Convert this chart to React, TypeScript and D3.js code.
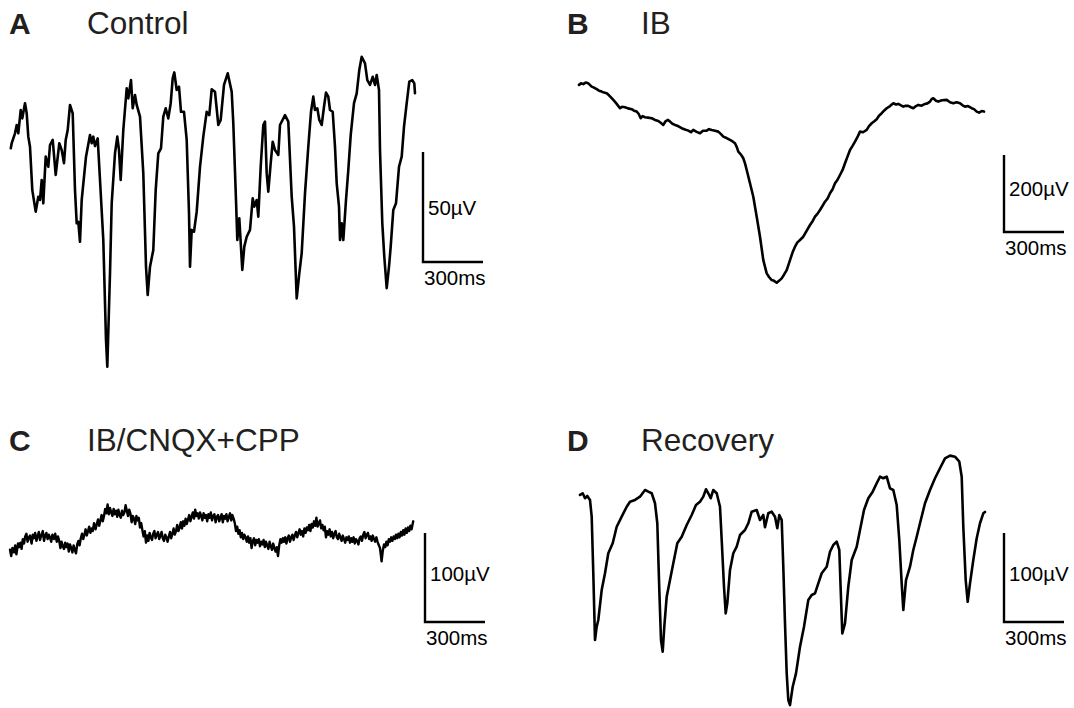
import React, { useEffect, useRef } from "react";
import * as d3 from "d3";

// ---------- DATA (time in ms, potential in µV) ----------
const controlTrace: [number, number][] = [
  [4,23.5],[8.5,25.8],[25,30.3],[33.5,34.1],[41.5,30.3],[53.5,40.9],[61.5,37.1],[75,44],[83.5,39.4],[91.5,28.8],[100,24.2],[111.5,4.5],[128.5,-5.3],[141.5,1.5],[150,0],[158.5,9.1],[166.5,-1.5],[178.5,19.7],[191.5,15.1],[200,25],[213.5,27.3],[228.5,11.4],[246.5,25.8],[258.5,22.7],[270,16.7],[278.5,27.3],[288.5,31.8],[300,43.2],[313.5,39.4],[325,4.5],[333.5,-10.6],[341.5,-9.9],[350,-19],[358.5,0],[380,19.7],[400,29.5],[408.5,25.8],[416.5,28.8],[425,24.5],[438.5,28],[450,9.1],[466.5,-18.2],[480,-63.6],[486.5,-75.8],[500,-33.3],[508.5,-1.5],[525,21.2],[536.5,28.8],[545,22.7],[553.5,9.1],[566.5,31.8],[583.5,50.8],[591.5,46.2],[605,54.5],[613.5,41.7],[625,47.7],[633.5,43.2],[650,37.9],[666.5,12.1],[680,-30.3],[688.5,-43.2],[700,-30.3],[716.5,-22.7],[728.5,4.5],[741.5,21.2],[755,23.5],[766.5,37.9],[778.5,41.7],[791.5,37.1],[803.5,44],[813.5,55.3],[821.5,58],[833.5,50],[845,51.5],[855,40.1],[870,40.1],[883.5,27.3],[895,-6],[900,-30.3],[908.5,-13.6],[920,-14.4],[933.5,-5.3],[950,15.1],[966.5,28.8],[983.5,40.1],[996.5,38.6],[1008.5,50.3],[1025,49.2],[1041.5,34.1],[1053.5,36.4],[1070,52.3],[1088.5,57.6],[1108.5,49.2],[1116.5,34.9],[1130,0],[1136.5,-18.2],[1146.5,-8.3],[1161.5,-31.8],[1171.5,-21.2],[1183.5,-16.7],[1200,-13.6],[1213.5,0.8],[1221.5,-3],[1233.5,0],[1241.5,-7.6],[1253.5,15.1],[1266.5,34.1],[1275,35.6],[1283.5,12.1],[1291.5,3.8],[1303.5,16.7],[1313.5,26.5],[1325,22.7],[1341.5,20.5],[1350,34.1],[1375,38.6],[1391.5,35.6],[1408.5,1.5],[1420,-12.1],[1433.5,-44.7],[1446.5,-33.3],[1458.5,-24.2],[1475,3],[1491.5,24.2],[1505,40.1],[1516.5,47],[1525,40.9],[1536.5,41.7],[1546.5,36.4],[1558.5,34.1],[1570,42.4],[1580,48.8],[1591.5,47],[1600,40.9],[1613.5,40.1],[1625,24.2],[1633.5,7.6],[1645,-3],[1650,-18.2],[1658.5,-10.6],[1666.5,-18.2],[1680,0],[1691.5,13.6],[1703.5,29.5],[1720,44],[1733.5,48.5],[1746.5,59.1],[1758.5,65.1],[1775,62.1],[1786.5,54.5],[1800,52.3],[1813.5,56],[1825,52.3],[1833.5,56.8],[1845,50],[1850,22.7],[1861.5,-10.6],[1871.5,-25.8],[1883.5,-40.1],[1895,-30.3],[1903.5,-21.2],[1916.5,-4.5],[1930,-1.5],[1945,15.1],[1958.5,19.7],[1970,33.3],[1983.5,44],[1996.5,53.8],[2011.5,54.5],[2021.5,53],[2025,48.5]
];

const ibTrace: [number, number][] = [
  [0,299],[10,303],[21.5,301],[33,305],[46.5,303],[63.5,294.6],[75,292],[88.5,287.8],[100,284],[113.5,281.6],[125,279],[138.5,277.4],[150,272],[163.5,264.4],[175,258],[188.5,249.6],[205,238.4],[215,242],[230,241],[245,238],[263.5,235.8],[275,232],[288.5,229.6],[298,224],[308.5,212.4],[318,218],[330,215],[345,214],[363.5,212.4],[380,208],[396.5,205.4],[410,200],[421.5,195],[432,204],[445,208],[455,203.6],[467,198],[480,195],[495,192],[513.5,186.4],[530,183],[546.5,180.2],[560,176],[571.5,182],[588,177],[605,173.4],[620,180],[638.5,180.2],[650,184],[663.5,182],[680,180],[696.5,177.6],[710,171],[721.5,164.6],[738,161],[755,156],[768,152],[780,147.4],[790,136],[796.5,125.6],[810,118],[821.5,108.4],[830,95],[838.5,78],[855,43.4],[871.5,8.6],[888.5,-43.4],[905,-95.4],[921.5,-156],[938.5,-190.6],[950,-200],[963.5,-208],[975,-210],[988.5,-215],[1000,-210],[1013.5,-203.6],[1025,-194],[1038.5,-182],[1055,-156],[1068,-136],[1080,-121.4],[1092,-110],[1105,-104],[1121.5,-95.4],[1138,-80],[1155,-65],[1168,-55],[1180,-43.4],[1192,-36],[1205,-26],[1218,-15],[1230,-4.4],[1243,4],[1255,17.4],[1268,28],[1280,43.4],[1292,52],[1305,65],[1318,78],[1330,95.4],[1342,112],[1355,130],[1367,140],[1380,151.6],[1392,163],[1405,177.6],[1420,176],[1438.5,182],[1450,192],[1463.5,199.4],[1475,204],[1488.5,209.8],[1500,219],[1513.5,225.4],[1525,232],[1538.5,238.4],[1555,244],[1571.5,251.4],[1585,248],[1596.5,249.6],[1610,246],[1621.5,242.6],[1635,245],[1646.5,244.4],[1660,241],[1671.5,238.4],[1685,244],[1696.5,247],[1713,245],[1730,249.6],[1742,251],[1755,255.6],[1763,262],[1771.5,264.4],[1785,258],[1796.5,255.6],[1815,259],[1838.5,260],[1855,254],[1871.5,251.4],[1888,254],[1905,251.4],[1918,246],[1930,242.6],[1945,244],[1963.5,238.4],[1975,236],[1988.5,229.6],[2000,227],[2013.5,231],[2025,229.6]
];

const blockTrace: [number, number][] = [
  [0,-11],[6,-18],[12,-9],[20,-14],[26,-6],[32,-16],[40,-4],[46,-8],[52,-3],[58,-10],[64,1],[70,-4],[76,4],[82,7],[88,-2],[94,3],[100,5],[108,-4],[114,6],[120,2],[126,8],[132,-1],[138,4],[144,9],[150,0],[158,6],[164,10],[170,-1],[176,5],[182,8],[188,1],[194,6],[200,3],[206,-2],[212,6],[220,1],[226,7],[234,-2],[240,4],[246,-1],[252,-9],[258,-2],[264,-7],[270,-10],[276,-3],[282,-8],[288,-4],[294,-13],[300,-5],[306,-9],[312,-14],[318,-6],[324,-11],[330,-15],[336,-5],[342,-1],[348,-6],[354,2],[360,7],[366,1],[372,6],[378,12],[384,5],[390,10],[396,15],[402,8],[408,13],[414,10],[420,19],[428,12],[434,18],[440,23],[446,16],[452,22],[458,28],[464,21],[470,27],[476,35],[482,30],[488,40],[494,29],[500,36],[506,31],[512,27],[518,35],[524,29],[530,33],[536,26],[542,34],[548,28],[554,25],[560,33],[566,28],[572,31],[578,39],[584,33],[590,27],[596,34],[602,30],[608,20],[614,27],[620,24],[626,18],[632,27],[638,22],[644,25],[650,14],[656,19],[662,11],[668,4],[674,10],[680,-3],[686,5],[692,-1],[698,8],[704,3],[710,0],[716,7],[722,10],[728,2],[734,6],[740,9],[746,1],[752,5],[758,9],[764,2],[770,-1],[776,6],[782,3],[788,-2],[794,4],[800,9],[806,2],[812,7],[818,13],[824,6],[830,10],[836,17],[842,10],[848,14],[854,20],[860,13],[866,21],[872,16],[878,24],[884,18],[890,23],[896,28],[902,21],[908,26],[914,31],[920,24],[926,34],[932,27],[938,30],[944,24],[950,31],[956,27],[962,22],[968,30],[974,25],[980,28],[986,21],[992,29],[998,25],[1004,31],[1010,22],[1016,27],[1022,29],[1028,20],[1034,26],[1040,28],[1046,21],[1052,25],[1058,29],[1064,20],[1070,27],[1076,24],[1082,29],[1088,21],[1094,26],[1100,30],[1106,22],[1112,28],[1118,24],[1124,19],[1130,10],[1136,15],[1142,7],[1148,11],[1154,3],[1160,8],[1166,1],[1172,6],[1178,3],[1184,-2],[1190,4],[1196,-3],[1202,2],[1208,-9],[1214,-1],[1220,2],[1226,-6],[1232,0],[1238,-3],[1244,1],[1250,-7],[1256,-2],[1262,-5],[1268,0],[1274,-8],[1280,-2],[1286,-6],[1292,-10],[1298,-2],[1304,-7],[1310,-11],[1316,-4],[1322,-9],[1328,-13],[1334,-8],[1340,-18],[1346,-6],[1352,1],[1358,-3],[1364,2],[1370,-2],[1376,3],[1382,-4],[1388,2],[1394,5],[1400,-2],[1406,3],[1412,6],[1418,0],[1424,5],[1430,9],[1436,3],[1442,8],[1448,12],[1454,6],[1460,10],[1466,4],[1472,13],[1478,8],[1484,14],[1490,11],[1496,17],[1502,10],[1508,18],[1514,14],[1520,21],[1526,16],[1532,25],[1538,15],[1544,19],[1550,22],[1556,13],[1562,17],[1568,11],[1574,15],[1580,3],[1586,10],[1592,6],[1598,12],[1604,4],[1610,9],[1616,2],[1622,7],[1628,10],[1634,3],[1640,1],[1646,7],[1652,3],[1658,-1],[1664,5],[1670,1],[1676,-3],[1682,3],[1688,0],[1694,4],[1700,-3],[1706,2],[1712,-2],[1718,3],[1724,-4],[1730,1],[1736,-1],[1742,-5],[1748,2],[1754,4],[1760,-1],[1766,6],[1772,9],[1778,2],[1784,6],[1790,8],[1796,1],[1802,4],[1808,-1],[1814,5],[1820,1],[1826,-2],[1832,3],[1838,-2],[1844,-6],[1850,-9],[1858,-24],[1864,-12],[1870,-5],[1876,-8],[1882,-2],[1888,-6],[1894,1],[1900,-2],[1906,3],[1912,-1],[1918,4],[1924,1],[1930,6],[1936,2],[1942,7],[1948,3],[1954,9],[1960,5],[1966,11],[1972,6],[1978,13],[1984,8],[1990,14],[1996,10],[2002,16],[2008,12],[2016,21]
];

const recoveryTrace: [number, number][] = [
  [0,50.6],[13.5,52.5],[25,46.9],[36.5,49.5],[50,45],[58.5,26.2],[66.5,-37.4],[75,-112.4],[83.5,-97.4],[91.5,-89.9],[108.5,-56.2],[125,-37.4],[141.5,-14.9],[163.5,-3.7],[183.5,14.9],[208.5,26.2],[233.5,37.4],[250,43],[275,45],[300,48.7],[325,56.2],[341.5,54.3],[358.5,52.5],[375,41.3],[386.5,18.8],[396.5,-56.2],[405,-112.4],[413.5,-125.6],[421.5,-97.4],[433.5,-63.7],[450,-45],[466.5,-26.2],[486.5,-3.7],[508.5,3.7],[533.5,16.9],[558.5,28.1],[580,39.3],[600,43],[616.5,48.7],[630,57],[641.5,52.5],[653.5,46.9],[666.5,56.2],[683.5,52.5],[700,37.4],[708.5,0],[720,-52.5],[728.5,-82.4],[736.5,-71.1],[750,-33.7],[766.5,-14.9],[783.5,-7.5],[800,5.6],[825,11.2],[841.5,18.8],[858.5,31.8],[883.5,33.7],[900,22.5],[916.5,28.1],[925,14.3],[941.5,30],[958.5,31.8],[975,26.2],[986.5,13.2],[996.5,28.1],[1008.5,22.5],[1016.5,-30],[1025,-93.6],[1033.5,-149.8],[1041.5,-179.8],[1050,-185.5],[1063.5,-164.9],[1080,-149.8],[1100,-119.9],[1120,-97.4],[1141.5,-67.4],[1158.5,-61.8],[1175,-59.9],[1191.5,-48.7],[1208.5,-37.4],[1233.5,-30],[1250,-13.2],[1266.5,-5.6],[1283.5,-1.9],[1296.5,-11.2],[1303.5,-56.2],[1311.5,-104.9],[1325,-93.6],[1341.5,-52.5],[1358.5,-22.5],[1383.5,-7.5],[1400,11.2],[1420,33.7],[1441.5,46.9],[1463.5,54.3],[1483.5,63.7],[1500,71.1],[1516.5,69.4],[1533.5,71.1],[1550,58.1],[1566.5,56.2],[1583.5,39.3],[1596.5,0],[1608.5,-48.7],[1616.5,-78.7],[1630,-45],[1650,-30],[1666.5,-11.2],[1683.5,3.7],[1700,18.8],[1725,41.3],[1750,56.2],[1775,69.4],[1800,80.6],[1825,91.8],[1850,94.8],[1875,93.6],[1896.5,88],[1908.5,71.1],[1916.5,14.9],[1928.5,-45],[1938.5,-69.4],[1950,-48.7],[1966.5,-22.5],[1983.5,1.9],[2000,18.8],[2016.5,30],[2025,31.5]
];

const panelLetters = ["A", "B", "C", "D"];
const panelTitles = ["Control", "IB", "IB/CNQX+CPP", "Recovery"];
const voltBars = [50, 200, 100, 100]; // µV
const timeBar = 300; // ms
const timeBarLabel = "300ms";

// ---------- LAYOUT ----------
const W = 1074;
const H = 708;
const FONT = "'Liberation Sans', Arial, Helvetica, sans-serif";
const TEXT = "#231f20";

type Layout = {
  x0: number; zeroY: number; pxPerUV: number;
  barX: number; barBottom: number;
  titleY: number; letterX: number; titleX: number;
  voltLabelY: number; strokeW: number;
};

const layouts: Layout[] = [
  { x0: 10, zeroY: 200, pxPerUV: 2.2, barX: 423, barBottom: 262, titleY: 34, letterX: 9, titleX: 87, voltLabelY: 215, strokeW: 2.6 },
  { x0: 579, zeroY: 200, pxPerUV: 77 / 200, barX: 1004, barBottom: 232, titleY: 34, letterX: 567, titleX: 641, voltLabelY: 196, strokeW: 2.6 },
  { x0: 10, zeroY: 540, pxPerUV: 0.89, barX: 425, barBottom: 622, titleY: 451, letterX: 9, titleX: 87, voltLabelY: 581, strokeW: 2.4 },
  { x0: 580, zeroY: 540, pxPerUV: 0.89, barX: 1004, barBottom: 622, titleY: 451, letterX: 567, titleX: 641, voltLabelY: 581, strokeW: 2.6 },
];

const traces = [controlTrace, ibTrace, blockTrace, recoveryTrace];
const PX_PER_MS = 0.2;

export default function App() {
  const ref = useRef<SVGSVGElement | null>(null);

  useEffect(() => {
    const svg = d3.select(ref.current);
    svg.selectAll("*").remove();

    traces.forEach((trace, i) => {
      const L = layouts[i];
      const x = d3.scaleLinear().domain([0, 1000]).range([L.x0, L.x0 + 1000 * PX_PER_MS]);
      const y = d3.scaleLinear().domain([0, 100]).range([L.zeroY, L.zeroY - 100 * L.pxPerUV]);
      const g = svg.append("g");

      const line = d3.line<[number, number]>().x((d) => x(d[0])).y((d) => y(d[1]));
      g.append("path")
        .attr("d", line(trace) || "")
        .attr("fill", "none")
        .attr("stroke", "#000")
        .attr("stroke-width", L.strokeW)
        .attr("stroke-linejoin", "round")
        .attr("stroke-linecap", "round");

      // scale bar
      const barLenX = x(timeBar) - x(0);
      const barLenY = y(0) - y(voltBars[i]);
      const bx = L.barX;
      const by = L.barBottom;
      g.append("path")
        .attr("d", `M${bx},${by - barLenY}V${by}H${bx + barLenX}`)
        .attr("fill", "none")
        .attr("stroke", "#000")
        .attr("stroke-width", 2.4);

      g.append("text")
        .attr("x", bx + 5)
        .attr("y", L.voltLabelY)
        .attr("font-family", FONT)
        .attr("font-size", 20.5)
        .attr("fill", "#000")
        .text(`${voltBars[i]}µV`);
      g.append("text")
        .attr("x", bx + 1)
        .attr("y", by + 23)
        .attr("font-family", FONT)
        .attr("font-size", 20.5)
        .attr("fill", "#000")
        .text(timeBarLabel);

      // titles
      g.append("text")
        .attr("x", L.letterX)
        .attr("y", L.titleY)
        .attr("font-family", FONT)
        .attr("font-size", 30)
        .attr("font-weight", "bold")
        .attr("fill", TEXT)
        .text(panelLetters[i]);
      g.append("text")
        .attr("x", L.titleX)
        .attr("y", L.titleY)
        .attr("font-family", FONT)
        .attr("font-size", 31.5)
        .attr("fill", TEXT)
        .text(panelTitles[i]);
    });
  }, []);

  return (
    <svg
      ref={ref}
      width={W}
      height={H}
      style={{ position: "absolute", left: 0, top: 0, background: "#fff" }}
    />
  );
}
